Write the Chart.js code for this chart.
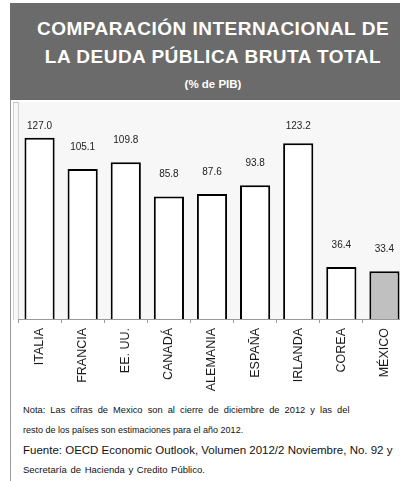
<!DOCTYPE html>
<html>
<head>
<meta charset="utf-8">
<script src="https://cdn.jsdelivr.net/npm/chart.js@4.4.0/dist/chart.umd.min.js"></script>
<style>
  html, body { margin: 0; padding: 0; background: #fff; }
  body { width: 400px; height: 481px; overflow: hidden; position: relative; font-family: "Liberation Sans", Arial, sans-serif; }
  .header { position: absolute; left: 10px; top: 3px; width: 406px; height: 97px; background: #6b6b6b; color: #fff; text-align: center; font-weight: bold; }
  .t1 { position: absolute; left: 0; right: 0; top: 15px; font-size: 19px; letter-spacing: 0.5px; line-height: 22px; }
  .t2 { position: absolute; left: 0; right: 0; top: 43px; font-size: 19px; letter-spacing: 0.5px; line-height: 22px; }
  .t3 { position: absolute; left: 0; right: 0; top: 73px; font-size: 11.5px; line-height: 16px; }
  .leftline { position: absolute; left: 10px; top: 100px; width: 1px; height: 381px; background: #999; }
  .frame { position: absolute; left: 13px; top: 102px; width: 400px; height: 217px; background: #f7f7f7; border-top: 1px solid #c8c8c8; border-left: 1px solid #d0d0d0; }
  #wrap { position: absolute; left: 12px; top: 100px; width: 404px; height: 300px; }
  .notes { position: absolute; left: 23px; top: 400px; color: #111; }
  .notes div { height: 20px; line-height: 20px; white-space: nowrap; }
  .n1 { font-size: 9.3px; word-spacing: 2.5px; }
  .n2 { font-size: 9px; }
  .n3 { font-size: 11.5px; }
  .n4 { font-size: 9.5px; word-spacing: 1px; }
</style>
</head>
<body>
<div class="header">
  <div class="t1">COMPARACIÓN INTERNACIONAL DE</div>
  <div class="t2">LA DEUDA PÚBLICA BRUTA TOTAL</div>
  <div class="t3">(% de PIB)</div>
</div>
<div class="leftline"></div>
<div class="frame"></div>
<div id="wrap"><canvas id="myChart" width="404" height="300"></canvas></div>
<div class="notes">
  <div class="n1">Nota: Las cifras de Mexico son al cierre de diciembre de 2012 y las del</div>
  <div class="n2">resto de los países son estimaciones para el año 2012.</div>
  <div class="n3">Fuente: OECD Economic Outlook, Volumen 2012/2 Noviembre, No. 92 y</div>
  <div class="n4">Secretaría de Hacienda y Credito Público.</div>
</div>
<script>
const CHART = document.getElementById('myChart').getContext('2d');

const countries = ['ITALIA', 'FRANCIA', 'EE. UU.', 'CANADÁ', 'ALEMANIA', 'ESPAÑA', 'IRLANDA', 'COREA', 'MÉXICO'];
const debtValues = [127.0, 105.1, 109.8, 85.8, 87.6, 93.8, 123.2, 36.4, 33.4];
const barColors = ['#ffffff', '#ffffff', '#ffffff', '#ffffff', '#ffffff', '#ffffff', '#ffffff', '#ffffff', '#c0c0c0'];

// plot area background + labels above bars
const plotBackground = {
  id: 'plotBackground',
  beforeDraw(chart) {
    const { ctx, chartArea } = chart;
    ctx.save();
    ctx.fillStyle = '#f7f7f7';
    ctx.fillRect(chartArea.left, chartArea.top - 3, chart.width - chartArea.left, chartArea.bottom - chartArea.top + 3);
    ctx.strokeStyle = '#cfcfcf';
    ctx.lineWidth = 1;
    ctx.beginPath();
    ctx.moveTo(chartArea.left + 0.5, chartArea.top - 3);
    ctx.lineTo(chartArea.left + 0.5, chartArea.bottom);
    ctx.stroke();
    ctx.restore();
  },
};

const valueLabels = {
  id: 'valueLabels',
  afterDatasetsDraw(chart) {
    const { ctx, chartArea } = chart;
    const meta = chart.getDatasetMeta(0);
    ctx.save();
    ctx.font = '10px "Liberation Sans", Arial, sans-serif';
    ctx.fillStyle = '#222';
    ctx.textAlign = 'center';
    ctx.textBaseline = 'middle';
    meta.data.forEach((bar, i) => {
      let y = bar.y - 22;
      if (y < chartArea.top + 21) {
        y = chartArea.top + 21;
      }
      ctx.fillText(debtValues[i].toFixed(1), bar.x, y);
    });
    ctx.restore();
  },
};

let debtChart = new Chart(CHART, {
  type: 'bar',
  data: {
    labels: countries,
    datasets: [
      {
        data: debtValues,
        backgroundColor: barColors,
        borderColor: '#000000',
        borderWidth: 2,
        barPercentage: 0.7,
        categoryPercentage: 1,
      },
    ],
  },
  options: {
    responsive: false,
    animation: false,
    layout: { padding: { top: 5, left: 6, right: 10, bottom: 0 } },
    plugins: {
      legend: { display: false },
      tooltip: { enabled: false },
    },
    scales: {
      x: {
        grid: {
          display: true,
          drawOnChartArea: false,
          drawTicks: true,
          tickLength: 4,
          color: '#9a9a9a',
          offset: true,
        },
        border: { display: true, color: '#9a9a9a', width: 1 },
        ticks: {
          minRotation: 90,
          maxRotation: 90,
          padding: 5,
          color: '#1a1a1a',
          font: { family: '"Liberation Sans", Arial, sans-serif', size: 12.5 },
        },
        afterFit(scale) {
          scale.height = 81;
        },
      },
      y: {
        display: false,
        min: 0,
        max: 150,
      },
    },
  },
  plugins: [plotBackground, valueLabels],
});
</script>
</body>
</html>
